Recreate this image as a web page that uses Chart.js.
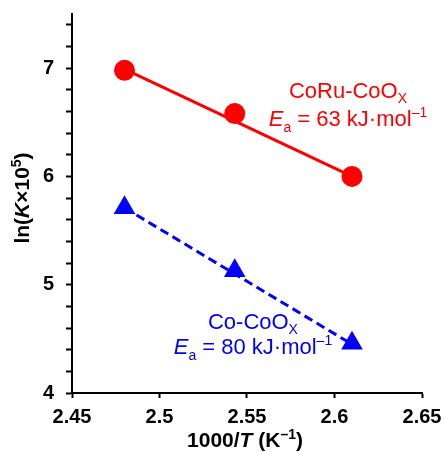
<!DOCTYPE html>
<html lang="en">
<head>
  <meta charset="UTF-8" />
  <title>Arrhenius plot</title>
  <script src="https://cdn.jsdelivr.net/npm/chart.js"></script>
  <style>
    body {
      margin: 0;
      background: #fff;
    }
    #wrap {
      width: 445px;
      height: 452px;
    }
  </style>
</head>
<body>
  <div id="wrap"><canvas id="arrChart" width="445" height="452"></canvas></div>

  <script>
    // values
    const invT = [2.480, 2.543, 2.610];          // 1000/T (K^-1)
    const coruLnK = [6.98, 6.58, 6.00];          // CoRu-CoOx
    const cocoLnK = [5.71, 5.13, 4.46];          // Co-CoOx
    const coruFitX = [2.480, 2.610];
    const coruFitY = [6.99, 6.00];
    const cocoFitX = [2.480, 2.610];
    const cocoFitY = [5.71, 4.45];

    const xTicks = [2.45, 2.5, 2.55, 2.6, 2.65];
    const yTicks = [4, 5, 6, 7];

    const FONT = '"Liberation Sans", Arial, sans-serif';
    const RED = '#ff0000';
    const BLUE = '#0000ff';

    function toPoints(xs, ys) {
      return xs.map((x, i) => ({ x: x, y: ys[i] }));
    }

    // draws a run of text pieces with their own font / vertical shift
    function drawRich(ctx, parts, x, y, color) {
      let total = 0;
      parts.forEach(p => {
        ctx.font = p.font;
        p.w = ctx.measureText(p.text).width;
        total += p.w;
      });
      let cx = x - total / 2;
      ctx.fillStyle = color;
      ctx.textAlign = 'left';
      ctx.textBaseline = 'alphabetic';
      parts.forEach(p => {
        ctx.font = p.font;
        ctx.fillText(p.text, cx, y + (p.dy || 0));
        cx += p.w;
      });
    }

    const reg = '22px ' + FONT;
    const regIt = 'italic 22px ' + FONT;
    const small = '14px ' + FONT;
    const bold = 'bold 21px ' + FONT;
    const boldIt = 'italic bold 21px ' + FONT;
    const boldSmall = 'bold 14px ' + FONT;

    const labelsPlugin = {
      id: 'labels',
      afterDraw(chart) {
        const ctx = chart.ctx;
        const xs = chart.scales.x;
        const ys = chart.scales.y;
        ctx.save();

        // series labels
        drawRich(ctx, [
          { text: 'CoRu-CoO', font: reg },
          { text: 'X', font: small, dy: 5 }
        ], xs.getPixelForValue(2.6077), ys.getPixelForValue(6.72), RED);
        drawRich(ctx, [
          { text: 'E', font: regIt },
          { text: 'a', font: small, dy: 6 },
          { text: ' = 63 kJ\u00b7mol', font: reg },
          { text: '\u20131', font: small, dy: -9 }
        ], xs.getPixelForValue(2.6077), ys.getPixelForValue(6.47), RED);

        drawRich(ctx, [
          { text: 'Co-CoO', font: reg },
          { text: 'X', font: small, dy: 5 }
        ], xs.getPixelForValue(2.5534), ys.getPixelForValue(4.59), BLUE);
        drawRich(ctx, [
          { text: 'E', font: regIt },
          { text: 'a', font: small, dy: 6 },
          { text: ' = 80 kJ\u00b7mol', font: reg },
          { text: '\u20131', font: small, dy: -9 }
        ], xs.getPixelForValue(2.5534), ys.getPixelForValue(4.36), BLUE);

        // axis titles
        drawRich(ctx, [
          { text: '1000/', font: bold },
          { text: 'T', font: boldIt },
          { text: ' (K', font: bold },
          { text: '\u20131', font: boldSmall, dy: -8 },
          { text: ')', font: bold }
        ], (xs.left + xs.right) / 2 - 2, 447, '#000');

        ctx.translate(28.5, 198);
        ctx.rotate(-Math.PI / 2);
        drawRich(ctx, [
          { text: 'ln(', font: bold },
          { text: 'K', font: boldIt },
          { text: '\u00d710', font: bold },
          { text: '5', font: boldSmall, dy: -8 },
          { text: ')', font: bold }
        ], 0, 0, '#000');

        ctx.restore();
      }
    };

    const ctx = document.getElementById('arrChart').getContext('2d');

    new Chart(ctx, {
      type: 'scatter',
      data: {
        datasets: [
          {
            label: 'CoRu-CoOx',
            data: toPoints(invT, coruLnK),
            pointStyle: 'circle',
            pointRadius: 10.5,
            pointHoverRadius: 10.5,
            backgroundColor: RED,
            borderColor: RED,
            borderWidth: 0,
            order: 0
          },
          {
            label: 'Co-CoOx',
            data: toPoints(invT, cocoLnK),
            pointStyle: 'triangle',
            pointRadius: 12.5,
            pointHoverRadius: 12.5,
            backgroundColor: BLUE,
            borderColor: BLUE,
            borderWidth: 0,
            order: 0
          },
          {
            label: 'CoRu fit',
            data: toPoints(coruFitX, coruFitY),
            showLine: true,
            borderColor: RED,
            borderWidth: 3,
            pointRadius: 0,
            order: 1
          },
          {
            label: 'Co fit',
            data: toPoints(cocoFitX, cocoFitY),
            showLine: true,
            borderColor: BLUE,
            borderWidth: 3,
            borderDash: [9, 5],
            pointRadius: 0,
            order: 1
          }
        ]
      },
      options: {
        responsive: false,
        animation: false,
        layout: {
          padding: { top: 14, right: 23, left: 0, bottom: 0 }
        },
        plugins: {
          legend: { display: false },
          tooltip: { enabled: false }
        },
        scales: {
          x: {
            type: 'linear',
            min: 2.45,
            max: 2.65,
            afterFit: s => {
              s.height = 59;
              s.paddingLeft = 0;
              s.paddingRight = 0;
            },
            afterBuildTicks: s => { s.ticks = xTicks.map(v => ({ value: v })); },
            ticks: {
              color: '#000',
              font: { family: FONT, size: 20, weight: 'bold' },
              padding: 7,
              autoSkip: false,
              maxRotation: 0,
              callback: v => String(parseFloat(v.toFixed(2)))
            },
            grid: {
              drawOnChartArea: false,
              tickColor: '#000',
              tickWidth: 2,
              tickLength: 5
            },
            border: { color: '#000', width: 2 }
          },
          y: {
            type: 'linear',
            min: 4,
            max: 7.5,
            afterFit: s => {
              s.width = 72;
              s.paddingTop = 0;
              s.paddingBottom = 0;
            },
            ticks: {
              stepSize: 0.2,
              includeBounds: false,
              autoSkip: false,
              color: '#000',
              font: { family: FONT, size: 20, weight: 'bold' },
              padding: 12,
              callback: v => {
                const r = Math.round(v);
                return (Math.abs(v - r) < 1e-6 && yTicks.includes(r)) ? String(r) : '';
              }
            },
            grid: {
              drawOnChartArea: false,
              tickColor: '#000',
              tickWidth: 2,
              tickLength: 6
            },
            border: { color: '#000', width: 2 }
          }
        }
      },
      plugins: [labelsPlugin]
    });
  </script>
</body>
</html>
